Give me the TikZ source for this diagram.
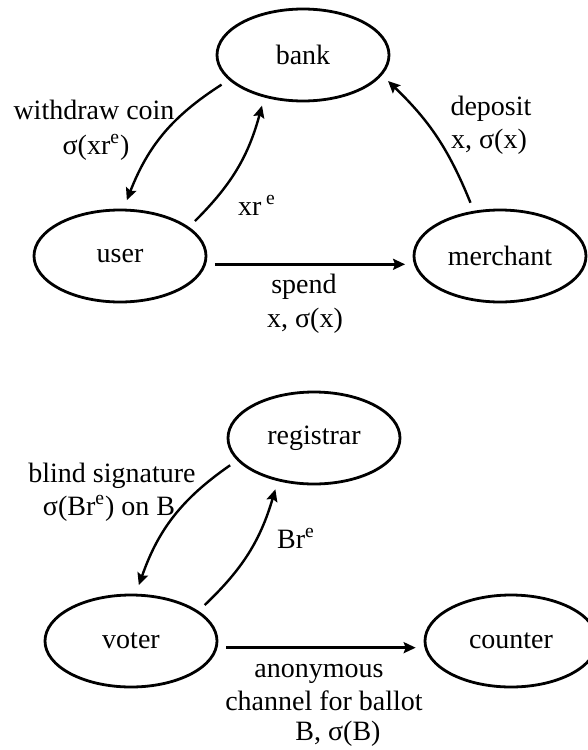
\documentclass[tikz,border=0pt]{standalone}
\usepackage{fontspec}
\setmainfont{Liberation Serif}
\usetikzlibrary{shapes.geometric,arrows.meta}

\begin{document}
\begin{tikzpicture}[x=0.5pt,y=-0.5pt,
                font=\fontsize{14pt}{16.5pt}\selectfont,
                party/.style={ellipse,draw=black,line width=1.4pt,minimum width=86pt,minimum height=46pt,inner sep=0pt,outer sep=5pt},
                msg/.style={-{Stealth[length=6pt,width=5.5pt,inset=1pt]},line width=1.2pt},
                lbl/.style={anchor=base,inner sep=0pt}]
                \useasboundingbox (0,0) rectangle (588,750);

                % e-cash
                \node (bank) at (303,55) [party] {bank};
                \node (user) at (120,256) [party] {user};
                \node (merchant) at (500,256) [party] {merchant};

                \draw [msg] (bank.200) to [bend right=18] (user.83);
                \draw [msg] (user.25) to [bend right=15] (bank.231);
                \draw [msg] (merchant.119) to [bend right=12] (bank.343);
                \draw [msg] (user.-5) -- (merchant.185);

                \node (withdraw) at (94,119) [lbl] {withdraw coin};
                \node (coin) at (96,154) [lbl] {σ(xr\textsuperscript{e})};
                \node (blinded) at (257,215) [lbl] {xr\,\textsuperscript{e}};
                \node (deposit) at (491,115) [lbl] {deposit};
                \node (depcoin) at (489,148) [lbl] {x, σ(x)};
                \node (spend) at (304,293) [lbl] {spend};
                \node (spentcoin) at (305,327) [lbl] {x, σ(x)};

                % voting
                \node (registrar) at (314,438) [party] {registrar};
                \node (voter) at (131,641) [party] {voter};
                \node (counter) at (511,641) [party] {counter};

                \draw [msg] (registrar.198) to [bend right=18] (voter.82);
                \draw [msg] (voter.26) to [bend right=15] (registrar.233);
                \draw [msg] (voter.-4) -- (counter.184);

                \node (blindsig) at (112,482) [lbl] {blind signature};
                \node (signature) at (109,515) [lbl] {σ(Br\textsuperscript{e}) on B};
                \node (ballot) at (296,548) [lbl] {Br\textsuperscript{e}};
                \node (anon) at (319,677) [lbl] {anonymous};
                \node (channel) at (324,710) [lbl] {channel for ballot};
                \node (signed) at (338,740) [lbl] {B, σ(B)};
\end{tikzpicture}
\end{document}
